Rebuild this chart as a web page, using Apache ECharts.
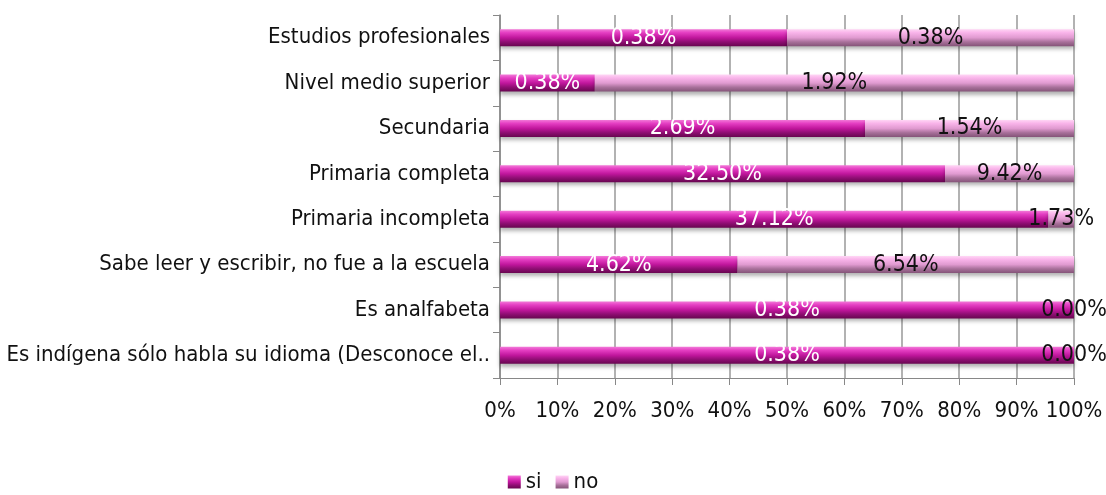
<!DOCTYPE html>
<html>
<head>
<meta charset="utf-8">
<script src="https://cdn.jsdelivr.net/npm/echarts@6/dist/echarts.min.js"></script>
<style>html,body{margin:0;padding:0;background:#fff}#c{width:1106px;height:495px}</style>
</head>
<body>
<div id="c"></div>
<script>
const categories = [
  "Es indígena sólo habla su idioma (Desconoce el..",
  "Es analfabeta",
  "Sabe leer y escribir, no fue a la escuela",
  "Primaria incompleta",
  "Primaria completa",
  "Secundaria",
  "Nivel medio superior",
  "Estudios profesionales"
];
const siValues = [0.38, 0.38, 4.62, 37.12, 32.50, 2.69, 0.38, 0.38];
const noValues = [0.00, 0.00, 6.54, 1.73, 9.42, 1.54, 1.92, 0.38];
const xTicks = [0, 10, 20, 30, 40, 50, 60, 70, 80, 90, 100];

const FONT = '"Liberation Sans Narrow", "Arial Narrow", "DejaVu Sans Condensed", sans-serif';

const totals = siValues.map((v, i) => v + noValues[i]);
const siShare = siValues.map((v, i) => v / totals[i] * 100);
const noShare = noValues.map((v, i) => v / totals[i] * 100);

function grad(stops) {
  return new echarts.graphic.LinearGradient(0, 0, 0, 1, stops.map((c) => ({offset: c[0], color: c[1]})));
}
const siColor = grad([[0, '#f27ad8'], [0.2, '#e53fc3'], [0.5, '#c0169c'], [0.75, '#8e0e72'], [1, '#680650']]);
const noColor = grad([[0, '#ffd6f5'], [0.2, '#f9b4ea'], [0.5, '#e09ad0'], [0.75, '#a8709a'], [1, '#845478']]);

const chart = echarts.init(document.getElementById('c'), null, {renderer: 'canvas'});
chart.setOption({
  animation: false,
  textStyle: {fontFamily: FONT},
  grid: {left: 500, right: 32, top: 15, bottom: 117, containLabel: false, outerBoundsMode: 'none'},
  xAxis: {
    type: 'value', min: 0, max: 100, interval: 10,
    axisLine: {show: true, lineStyle: {color: '#888', width: 1}},
    axisTick: {show: true, length: 7, lineStyle: {color: '#888'}},
    splitLine: {show: true, lineStyle: {color: '#999', width: 1.5}},
    axisLabel: {formatter: v => xTicks.includes(v) ? v + '%' : '', color: '#111', fontSize: 22, margin: 22, fontFamily: FONT}
  },
  yAxis: {
    type: 'category', data: categories,
    axisLine: {show: true, lineStyle: {color: '#888', width: 1.5}},
    axisTick: {show: true, length: 7, lineStyle: {color: '#888'}},
    axisLabel: {color: '#111', fontSize: 22, margin: 10, fontFamily: FONT}
  },
  legend: {
    top: 471, left: 'center', padding: 0, itemWidth: 13, itemHeight: 13, itemGap: 14, icon: 'rect',
    textStyle: {fontSize: 22, color: '#111', fontFamily: FONT},
    data: ['si', 'no']
  },
  series: [
    {
      name: 'si', type: 'bar', stack: 'total', barWidth: 17,
      data: siShare,
      itemStyle: {color: siColor, shadowColor: 'rgba(0,0,0,0.3)', shadowBlur: 4, shadowOffsetY: 3},
      label: {show: true, position: 'inside', color: '#fff', fontSize: 23, fontFamily: FONT,
        formatter: p => siValues[p.dataIndex].toFixed(2) + '%'}
    },
    {
      name: 'no', type: 'bar', stack: 'total', barWidth: 17,
      data: noShare,
      itemStyle: {color: noColor, shadowColor: 'rgba(0,0,0,0.3)', shadowBlur: 4, shadowOffsetY: 3},
      label: {show: true, position: 'inside', color: '#111', fontSize: 23, fontFamily: FONT,
        formatter: p => noValues[p.dataIndex].toFixed(2) + '%'}
    }
  ]
});
</script>
</body>
</html>
